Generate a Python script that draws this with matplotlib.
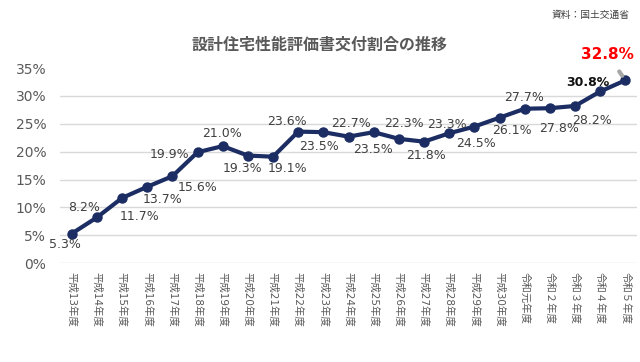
import matplotlib
matplotlib.use('Agg')
import matplotlib.pyplot as plt

plt.rcParams['font.family'] = ['DejaVu Sans', 'Noto Sans CJK JP']

years = ['平成13年度', '平成14年度', '平成15年度', '平成16年度', '平成17年度',
         '平成18年度', '平成19年度', '平成20年度', '平成21年度', '平成22年度',
         '平成23年度', '平成24年度', '平成25年度', '平成26年度', '平成27年度',
         '平成28年度', '平成29年度', '平成30年度', '令和元年度', '令和２年度',
         '令和３年度', '令和４年度', '令和５年度']
ratio = [5.3, 8.2, 11.7, 13.7, 15.6, 19.9, 21.0, 19.3, 19.1, 23.6, 23.5, 22.7,
         23.5, 22.3, 21.8, 23.3, 24.5, 26.1, 27.7, 27.8, 28.2, 30.8, 32.8]
yticks = [0, 5, 10, 15, 20, 25, 30, 35]

# label offsets in pixels (dx, dy) from each point
offsets = [(-7, -11), (-13, 10), (17, -19), (15, -13), (25, -11), (-28, -2),
           (-1, 13), (-5, -13), (14, -12), (-11, 10), (-4, -14), (2, 13),
           (-1, -17), (5, 15), (2, -14), (-2, 9), (2, -17), (12, -13),
           (-1, 11), (9, -20), (17, -15), (-12, 9), (-18, 26)]

fig = plt.figure(figsize=(6.4, 3.62), dpi=100)
ax = fig.add_axes([0.094, 0.273, 0.902, 0.539])

x = list(range(len(years)))
ax.plot(x, ratio, color='#1B2D63', lw=3, marker='o', ms=6.5, zorder=3)

for i, v in enumerate(ratio):
    dx, dy = offsets[i]
    if i == len(ratio) - 1:
        ax.annotate(f'{v:.1f}%', xy=(i, v), xytext=(dx, dy), textcoords='offset pixels',
                    ha='center', va='center', fontsize=11, fontweight='bold', color='#FF0000',
                    arrowprops=dict(arrowstyle='-', color='#A6A6A6', lw=3, shrinkA=6, shrinkB=4))
    elif i == len(ratio) - 2:
        ax.annotate(f'{v:.1f}%', xy=(i, v), xytext=(dx, dy), textcoords='offset pixels',
                    ha='center', va='center', fontsize=9, fontweight='bold', color='#111111')
    else:
        ax.annotate(f'{v:.1f}%', xy=(i, v), xytext=(dx, dy), textcoords='offset pixels',
                    ha='center', va='center', fontsize=9, color='#404040')

ax.set_xlim(-0.46, 22.48)
ax.set_ylim(0, 35)
ax.set_yticks(yticks)
ax.set_yticklabels([f'{t}%' for t in yticks])
ax.set_xticks(x)
ax.set_xticklabels(years, rotation=270, fontsize=7.5, color='#595959')
ax.tick_params(axis='y', length=0, pad=10, labelsize=10, labelcolor='#595959')
ax.tick_params(axis='x', length=0, pad=6)

ax.grid(axis='y', color='#D9D9D9', lw=1)
ax.get_ygridlines()[-1].set_visible(False)
ax.set_axisbelow(True)
for s in ax.spines.values():
    s.set_visible(False)

fig.text(0.5, 0.876, '設計住宅性能評価書交付割合の推移', ha='center', va='center',
         fontsize=11.5, fontweight='bold', color='#595959')
fig.text(0.984, 0.958, '資料：国土交通省', ha='right', va='center', fontsize=7, color='#404040')

fig.savefig('out.png', dpi=100)
